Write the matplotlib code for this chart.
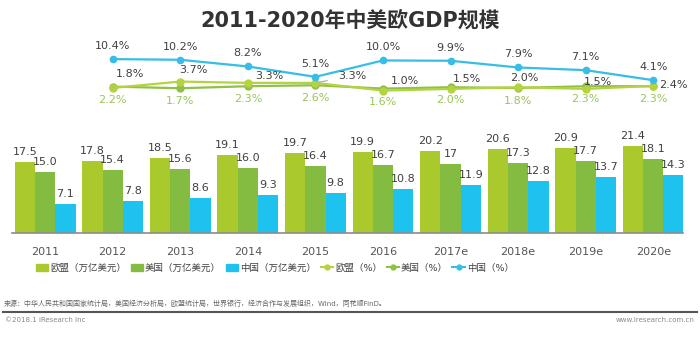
import matplotlib.pyplot as plt
import numpy as np
from matplotlib.patches import Patch
from matplotlib.lines import Line2D

plt.rcParams['font.family'] = ['DejaVu Sans', 'Noto Sans CJK SC']

# data
years = ['2011', '2012', '2013', '2014', '2015', '2016', '2017e', '2018e', '2019e', '2020e']
eu_gdp = [17.5, 17.8, 18.5, 19.1, 19.7, 19.9, 20.2, 20.6, 20.9, 21.4]
us_gdp = [15.0, 15.4, 15.6, 16.0, 16.4, 16.7, 17, 17.3, 17.7, 18.1]
cn_gdp = [7.1, 7.8, 8.6, 9.3, 9.8, 10.8, 11.9, 12.8, 13.7, 14.3]
# growth rates (2012-2020e)
eu_pct = [1.8, 3.7, 3.3, 3.3, 1.0, 1.5, 2.0, 1.5, 2.4]
us_pct = [2.2, 1.7, 2.3, 2.6, 1.6, 2.0, 1.8, 2.3, 2.3]
cn_pct = [10.4, 10.2, 8.2, 5.1, 10.0, 9.9, 7.9, 7.1, 4.1]

# colours
c_eu_bar = '#a9c92d'
c_us_bar = '#84bc41'
c_cn_bar = '#1dc3ee'
c_eu_line = '#b5d33f'
c_us_line = '#8dc147'
c_cn_line = '#38bde6'
c_text = '#404040'

# label offsets in pixels for the EU % labels (they were nudged by hand in the original)
eu_offsets = [(17, 14), (13, 12), (21, 7), (37, 7), (22, 10), (16, 10), (6, 9), (12, 7), (20, 1)]

fig = plt.figure(figsize=(7, 3.44), dpi=100)
ax = fig.add_axes([12 / 700, 111 / 344, 671 / 700, 193 / 344])

x = np.arange(len(years))
w = 0.3
ax.bar(x - w, eu_gdp, w, color=c_eu_bar)
ax.bar(x, us_gdp, w, color=c_us_bar)
ax.bar(x + w, cn_gdp, w, color=c_cn_bar)

for vals, dx in [(eu_gdp, -w), (us_gdp, 0), (cn_gdp, w)]:
    for xi, v in zip(x, vals):
        ax.annotate(str(v), (xi + dx, v), xytext=(0, 5), textcoords='offset pixels',
                    ha='center', va='bottom', fontsize=8, color=c_text)

ax.set_xlim(-0.49, 9.44)
ax.set_ylim(0, 47.4)
ax.set_xticks(x)
ax.set_xticklabels(years, fontsize=8, color='#555555')
ax.tick_params(axis='x', length=0, pad=10)
ax.set_yticks([])
for s in ['top', 'left', 'right']:
    ax.spines[s].set_visible(False)
ax.spines['bottom'].set_color('#8c8c8c')
ax.spines['bottom'].set_linewidth(1.2)

# growth lines on a twin axis
ax2 = ax.twinx()
ax2.set_ylim(-41.5, 16.1)
ax2.set_yticks([])
for s in ['top', 'left', 'right', 'bottom']:
    ax2.spines[s].set_visible(False)
xl = x[1:]
ax2.plot(xl, us_pct, color=c_us_line, lw=1.6, marker='o', ms=5)
ax2.plot(xl, eu_pct, color=c_eu_line, lw=1.6, marker='o', ms=5)
ax2.plot(xl, cn_pct, color=c_cn_line, lw=1.6, marker='o', ms=4.5)

for xi, v in zip(xl, cn_pct):
    ax2.annotate(f'{v:.1f}%', (xi, v), xytext=(0, 13), textcoords='offset pixels',
                 ha='center', va='center', fontsize=8, color=c_text)
for xi, v in zip(xl, us_pct):
    ax2.annotate(f'{v:.1f}%', (xi, v), xytext=(0, -13), textcoords='offset pixels',
                 ha='center', va='center', fontsize=8, color='#9bc45a')
for i, (xi, v) in enumerate(zip(xl, eu_pct)):
    arrow = dict(arrowstyle='-', color='#aaaaaa', lw=0.8, shrinkA=6, shrinkB=2) if i in (0, 3) else None
    ax2.annotate(f'{v:.1f}%', (xi, v), xytext=eu_offsets[i], textcoords='offset pixels',
                 ha='center', va='center', fontsize=8, color=c_text, arrowprops=arrow)

# legend
handles = [
    Patch(color=c_eu_bar), Patch(color=c_us_bar), Patch(color=c_cn_bar),
    Line2D([], [], color=c_eu_line, marker='o', ms=3.5, lw=1.5),
    Line2D([], [], color=c_us_line, marker='o', ms=3.5, lw=1.5),
    Line2D([], [], color=c_cn_line, marker='o', ms=3.5, lw=1.5),
]
labels = ['欧盟（万亿美元）', '美国（万亿美元）', '中国（万亿美元）', '欧盟（%）', '美国（%）', '中国（%）']
fig.legend(handles, labels, loc='center left', bbox_to_anchor=(36 / 700, 1 - 268 / 344), ncol=6,
           frameon=False, fontsize=6.8, handlelength=1.3, handleheight=0.7, handletextpad=0.2,
           columnspacing=0.5, labelcolor='#404040', borderaxespad=0, borderpad=0)

fig.text(0.5, 1 - 20 / 344, '2011-2020年中美欧GDP规模', ha='center', va='center',
         fontsize=15, fontweight='bold', color='#333333')

fig.text(4 / 700, 1 - 303 / 344,
         '来源：中华人民共和国国家统计局，美国经济分析局，欧盟统计局，世界银行，经济合作与发展组织，Wind，同花顺FinD。',
         ha='left', va='center', fontsize=5, color='#666666')
fig.add_artist(Line2D([3 / 700, 697 / 700], [1 - 312 / 344, 1 - 312 / 344], color='#555555', lw=1.5))
fig.text(5 / 700, 1 - 320 / 344, '©2018.1 iResearch Inc', ha='left', va='center', fontsize=5, color='#888888')
fig.text(695 / 700, 1 - 320 / 344, 'www.iresearch.com.cn', ha='right', va='center', fontsize=5, color='#888888')

fig.savefig('out.png', dpi=100)
